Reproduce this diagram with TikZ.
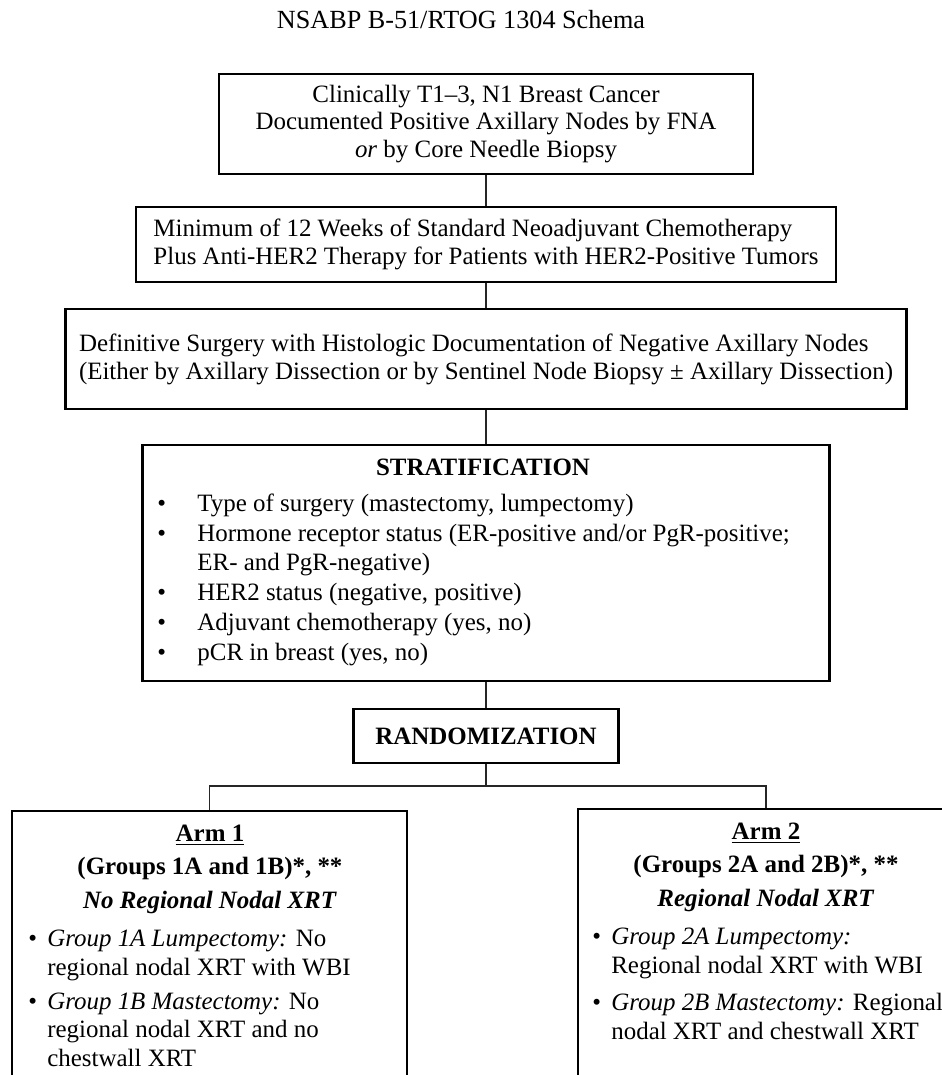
\documentclass[tikz,border=0pt]{standalone}
\usepackage{fontspec}
\setmainfont{Liberation Serif}
\newcommand{\bul}[1]{\makebox[#1][l]{\textbullet}}

\begin{document}
\begin{tikzpicture}[x=0.02cm, y=-0.02cm, font=\fontsize{14.2}{16}\selectfont,
  box/.style={draw, line width=1.3pt, inner sep=0pt},
  txt/.style={inner sep=0pt, align=left},
  link/.style={line width=1.1pt, black!85}]
  \useasboundingbox (0,0) rectangle (942,1075);
  \clip (0,0) rectangle (942,1075);

  \node[anchor=base, inner sep=0pt, font=\fontsize{14.9}{16}\selectfont] (title) at (461,29) {NSABP B-51/RTOG 1304 Schema};

  \node[box, minimum width=10.68cm, minimum height=2cm, align=center,
    font=\fontsize{14.2}{15.6}\selectfont] (diag) at (486,124)
    {Clinically T1–3, N1 Breast Cancer\\Documented Positive Axillary Nodes by FNA\\\textit{or} by Core Needle Biopsy};
  \node[box, minimum width=14cm, minimum height=1.5cm, align=left] (chemo) at (486,244.5)
    {Minimum of 12 Weeks of Standard Neoadjuvant Chemotherapy\\Plus Anti-HER2 Therapy for Patients with HER2-Positive Tumors};
  \node[box, minimum width=16.82cm, minimum height=2cm, align=left] (surg) at (486,359)
    {Definitive Surgery with Histologic Documentation of Negative Axillary Nodes\\(Either by Axillary Dissection or by Sentinel Node Biopsy ± Axillary Dissection)};

  \node[box, minimum width=13.74cm, minimum height=4.72cm] (strat) at (486,563) {};
  \node[anchor=base, inner sep=0pt] (strathead) at (483,475) {\textbf{STRATIFICATION}};
  \node[txt, anchor=base west, font=\fontsize{14.2}{16.9}\selectfont] (stratlist) at (157,660)
    {\bul{22.8pt}Type of surgery (mastectomy, lumpectomy)\\
     \bul{22.8pt}Hormone receptor status (ER-positive and/or PgR-positive;\\
     \hspace*{22.8pt}ER- and PgR-negative)\\
     \bul{22.8pt}HER2 status (negative, positive)\\
     \bul{22.8pt}Adjuvant chemotherapy (yes, no)\\
     \bul{22.8pt}pCR in breast (yes, no)};

  \node[box, minimum width=5.3cm, minimum height=1.08cm] (rand) at (486,736) {\textbf{RANDOMIZATION}};

  \node[box, minimum width=7.9cm, minimum height=6cm, anchor=north] (arm1) at (209.5,810) {};
  \node[anchor=base, inner sep=0pt, align=center, font=\fontsize{14.2}{18.8}\selectfont] (arm1head) at (210,908)
    {\textbf{\underline{Arm 1}}\\\textbf{(Groups 1A and 1B)*, **}\\\textbf{\textit{No Regional Nodal XRT}}};
  \node[txt, anchor=base west] (arm1a) at (28,975)
    {\bul{10.8pt}\textit{Group 1A Lumpectomy:} No\\\hspace*{10.8pt}regional nodal XRT with WBI};
  \node[txt, anchor=base west] (arm1b) at (28,1066)
    {\bul{10.8pt}\textit{Group 1B Mastectomy:} No\\\hspace*{10.8pt}regional nodal XRT and no\\\hspace*{10.8pt}chestwall XRT};

  \node[box, minimum width=7.52cm, minimum height=6cm, anchor=north] (arm2) at (766,808) {};
  \node[anchor=base, inner sep=0pt, align=center, font=\fontsize{14.2}{18.8}\selectfont] (arm2head) at (766,906)
    {\textbf{\underline{Arm 2}}\\\textbf{(Groups 2A and 2B)*, **}\\\textbf{\textit{Regional Nodal XRT}}};
  \node[txt, anchor=base west] (arm2a) at (592,973)
    {\bul{10.8pt}\textit{Group 2A Lumpectomy:}\\\hspace*{10.8pt}Regional nodal XRT with WBI};
  \node[txt, anchor=base west] (arm2b) at (592,1039)
    {\bul{10.8pt}\textit{Group 2B Mastectomy:} Regional\\\hspace*{10.8pt}nodal XRT and chestwall XRT};

  \coordinate (split) at (486,786);
  \draw[link] (diag) -- (chemo);
  \draw[link] (chemo) -- (surg);
  \draw[link] (surg) -- (strat);
  \draw[link] (strat) -- (rand);
  \draw[link] (rand) -- (split) -| (arm1.north);
  \draw[link] (split) -| (arm2.north);
\end{tikzpicture}
\end{document}
